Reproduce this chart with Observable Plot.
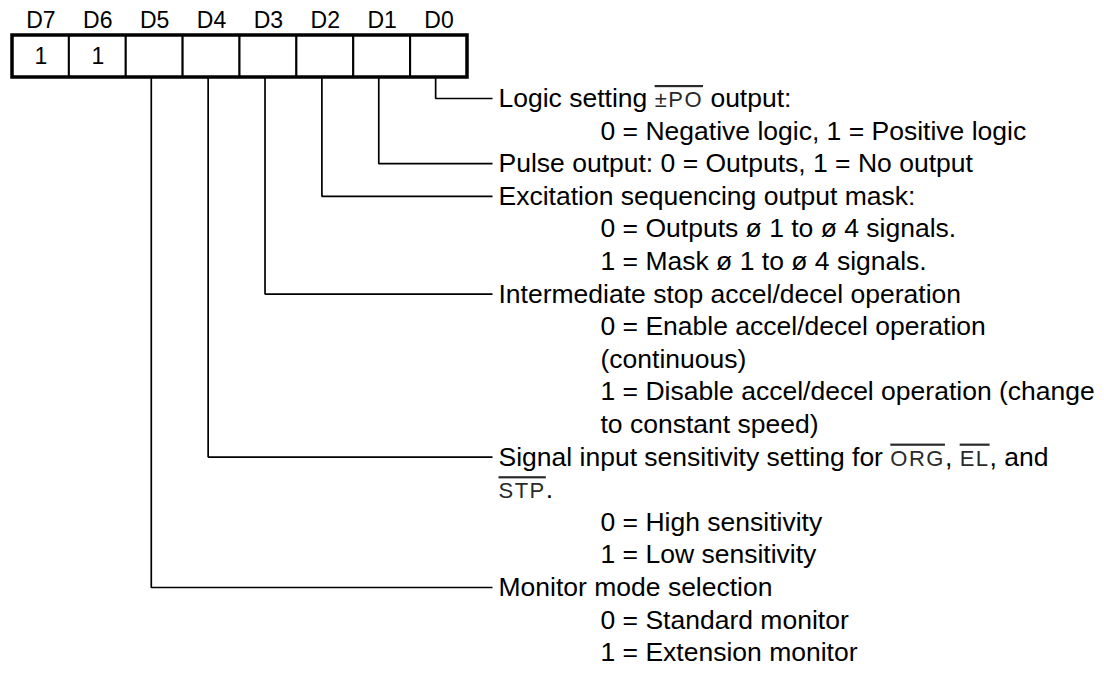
<!DOCTYPE html>
<html><head><meta charset="utf-8">
<script src="https://cdn.jsdelivr.net/npm/d3@7"></script>
<script src="https://cdn.jsdelivr.net/npm/@observablehq/plot@0.6"></script>
<style>
html,body{margin:0;padding:0;background:#fff;}
#chart{width:1104px;height:700px;}
</style>
</head><body><div id="chart"></div>
<script>
// ---- data ----
const bits = ["D7","D6","D5","D4","D3","D2","D1","D0"];
const bitValues = ["1","1","","","","","",""];
const describedBits = ["D0","D1","D2","D3","D4","D5"];
const descD0 = ["Logic setting ±PO output:", "0 = Negative logic, 1 = Positive logic"];
const indentD0 = [0, 1];
const descD1 = ["Pulse output: 0 = Outputs, 1 = No output"];
const indentD1 = [0];
const descD2 = ["Excitation sequencing output mask:", "0 = Outputs ø 1 to ø 4 signals.", "1 = Mask ø 1 to ø 4 signals."];
const indentD2 = [0, 1, 1];
const descD3 = ["Intermediate stop accel/decel operation", "0 = Enable accel/decel operation", "(continuous)", "1 = Disable accel/decel operation (change", "to constant speed)"];
const indentD3 = [0, 1, 1, 1, 1];
const descD4 = ["Signal input sensitivity setting for ORG, EL, and", "STP.", "0 = High sensitivity", "1 = Low sensitivity"];
const indentD4 = [0, 0, 1, 1];
const descD5 = ["Monitor mode selection", "0 = Standard monitor", "1 = Extension monitor"];
const indentD5 = [0, 1, 1];
const overlined = ["±PO", "ORG", "EL", "STP"];

// ---- layout ----
const W = 1104, H = 700;
const boxLeft = 12, boxRight = 467, boxTop = 35, boxBottom = 77;
const headerY = 20, valueY = 56;
const firstRowY = 98, rowStep = 32.6;
const textX = 498, indentX = 600, lineEndX = 492;
const connectorOffset = 0.44;
const colW = (boxRight - boxLeft) / bits.length;
const col = px => (px - boxLeft) / colW;
const row = px => (px - firstRowY) / rowStep;

const descs = {D0: [descD0, indentD0], D1: [descD1, indentD1], D2: [descD2, indentD2],
               D3: [descD3, indentD3], D4: [descD4, indentD4], D5: [descD5, indentD5]};

const cells = bits.map((b, i) => ({bit: b, i, value: bitValues[i]}));
const lines = [];
const connectors = [];
let r = 0;
for (const b of describedBits) {
  const [texts, indents] = descs[b];
  const i = bits.indexOf(b);
  const cx = i + connectorOffset;
  connectors.push({bit: b, x: cx, y: row(boxBottom)});
  connectors.push({bit: b, x: cx, y: r});
  connectors.push({bit: b, x: col(lineEndX), y: r});
  texts.forEach((t, k) => {
    lines.push({text: t, x: col(indents[k] ? indentX : textX), y: r});
    r++;
  });
}

const font = "'Liberation Sans', Arial, Helvetica, sans-serif";
const chart = Plot.plot({
  width: W, height: H,
  marginTop: 0, marginRight: 0, marginBottom: 0, marginLeft: 0,
  x: {type: "linear", domain: [0, bits.length], range: [boxLeft, boxRight], axis: null},
  y: {type: "linear", domain: [0, 1], range: [firstRowY, firstRowY + rowStep], axis: null},
  style: {fontFamily: font, background: "#fff", color: "#000"},
  marks: [
    Plot.line(connectors, {x: "x", y: "y", z: "bit", stroke: "#000", strokeWidth: 1.7, strokeLinejoin: "miter", strokeLinecap: "butt"}),
    Plot.rect(cells, {x1: d => d.i, x2: d => d.i + 1, y1: row(boxTop), y2: row(boxBottom), fill: "#fff", stroke: "#000", strokeWidth: 2}),
    Plot.rect([0], {x1: 0, x2: bits.length, y1: row(boxTop), y2: row(boxBottom), fill: "none", stroke: "#000", strokeWidth: 3.5}),
    Plot.text(cells, {x: d => d.i + 0.5, y: row(headerY), text: "bit", fontSize: 23, fill: "#000"}),
    Plot.text(cells, {x: d => d.i + 0.5, y: row(valueY), text: "value", fontSize: 23, fill: "#000"}),
    Plot.text(lines, {x: "x", y: "y", text: "text", textAnchor: "start", fontSize: 26.5, fill: "#000"})
  ]
});
document.getElementById("chart").appendChild(chart);

// overline the signal names
const re = new RegExp("(" + overlined.map(s => s.replace(/[.*+?^${}()|[\]\\]/g, "\\$&")).join("|") + ")", "g");
chart.querySelectorAll("text").forEach(t => {
  const s = t.textContent;
  if (!re.test(s)) return;
  re.lastIndex = 0;
  const parts = s.split(re);
  while (t.firstChild) t.removeChild(t.firstChild);
  parts.forEach(p => {
    if (!p) return;
    if (overlined.includes(p)) {
      const ts = document.createElementNS("http://www.w3.org/2000/svg", "tspan");
      ts.textContent = p;
      ts.setAttribute("font-size", "22");
      ts.setAttribute("fill", "#2a2a2a");
      ts.setAttribute("letter-spacing", "1.5");
      ts.style.textDecoration = "overline";
      t.appendChild(ts);
    } else {
      t.appendChild(document.createTextNode(p));
    }
  });
});
</script>
</body></html>
